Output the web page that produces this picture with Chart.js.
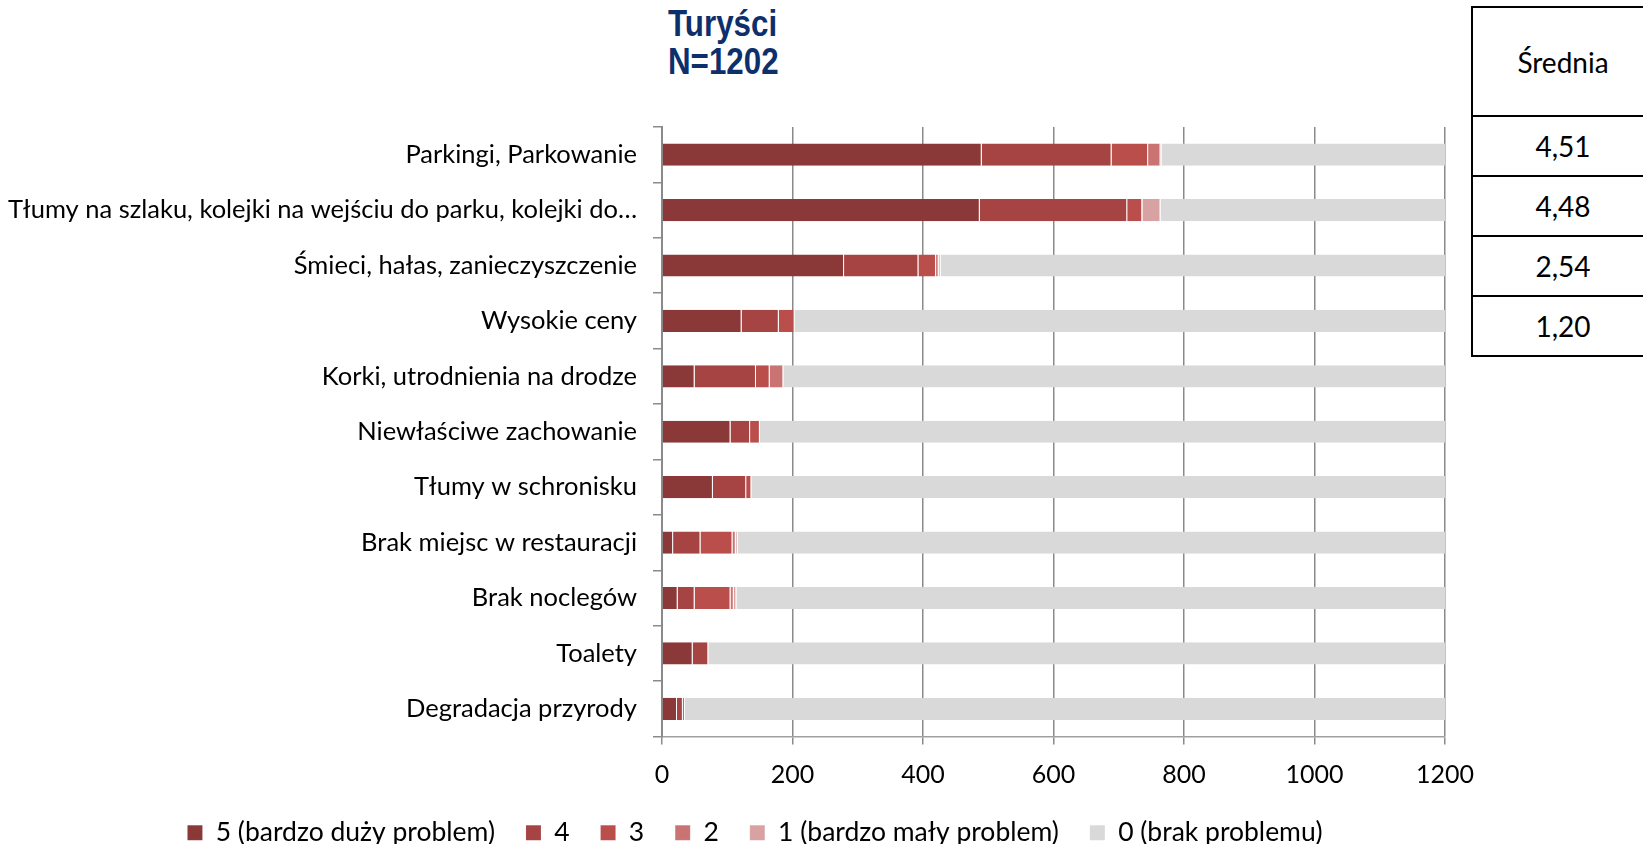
<!DOCTYPE html>
<html lang="pl">
<head>
  <meta charset="utf-8"/>
  <title>Turyści – problemy</title>
  <script src="https://cdn.jsdelivr.net/npm/chart.js"></script>
  <style>
    html, body { margin: 0; padding: 0; background: #fff; overflow: hidden; }
    body { width: 1643px; height: 844px; position: relative; }
    .title {
      position: absolute; left: 668px; top: 5px;
      font-family: "Liberation Sans", Arial, sans-serif; font-weight: bold;
      font-size: 36px; line-height: 38px; color: #0d2f6b;
      transform: scaleX(0.87); transform-origin: left top;
    }
    .wrap { position: absolute; left: 0; top: 0; width: 1510px; height: 856px; }
    table.avg {
      position: absolute; left: 1471px; top: 6px; width: 184px;
      border-collapse: collapse; font-family: Lato, sans-serif; font-size: 28px;
      background: #fff;
    }
    table.avg td { border: 2px solid #000; text-align: center; padding: 0; }
    table.avg tr.head td { height: 107px; }
    table.avg tr.val td { height: 58px; }
  </style>
</head>
<body>
  <div class="title">Turyści<br>N=1202</div>

  <div class="wrap"><canvas id="chart"></canvas></div>

  <table class="avg" id="avgTable">
    <tr class="head"><td>Średnia</td></tr>
  </table>

  <script>
    // data
    const categories = [
      'Parkingi, Parkowanie',
      'Tłumy na szlaku, kolejki na wejściu do parku, kolejki do…',
      'Śmieci, hałas, zanieczyszczenie',
      'Wysokie ceny',
      'Korki, utrodnienia na drodze',
      'Niewłaściwe zachowanie',
      'Tłumy w schronisku',
      'Brak miejsc w restauracji',
      'Brak noclegów',
      'Toalety',
      'Degradacja przyrody'
    ];
    const seriesNames = ['5 (bardzo duży problem)', '4', '3', '2', '1 (bardzo mały problem)', '0 (brak problemu)'];
    const v5 = [490, 487, 279, 122, 50, 105, 78, 17, 24, 47, 23];
    const v4 = [199, 226, 114, 57, 94, 30, 51, 42, 26, 24, 9];
    const v3 = [56, 23, 27, 24, 21, 15, 8, 49, 55, 0, 3];
    const v2 = [19, 1, 4, 0, 21, 0, 0, 5, 5, 0, 0];
    const v1 = [2, 27, 3, 0, 0, 0, 0, 3, 4, 0, 0];
    const v0 = [436, 438, 775, 999, 1016, 1052, 1065, 1086, 1088, 1131, 1167];
    const xTicks = [0, 200, 400, 600, 800, 1000, 1200];
    const averages = ['4,51', '4,48', '2,54', '1,20'];

    const colors = ['#8b3838', '#a54442', '#b94e4b', '#c97472', '#d9a2a2', '#d9d9d9'];

    // średnia table
    const tbl = document.getElementById('avgTable');
    averages.forEach(a => {
      const tr = document.createElement('tr');
      tr.className = 'val';
      tr.innerHTML = `<td>${a}</td>`;
      tbl.appendChild(tr);
    });

    const values = [v5, v4, v3, v2, v1, v0];
    const datasets = values.map((d, i) => ({
      label: seriesNames[i],
      data: d,
      backgroundColor: colors[i],
      borderColor: 'rgba(255,255,255,0.3)',
      borderWidth: { left: 0, right: 1, top: 0, bottom: 0 },
      borderSkipped: false,
      barPercentage: 0.4,
      categoryPercentage: 1
    }));

    const FONT = 'Lato, "Open Sans", sans-serif';

    new Chart(document.getElementById('chart'), {
      type: 'bar',
      data: { labels: categories, datasets },
      options: {
        indexAxis: 'y',
        responsive: true,
        maintainAspectRatio: false,
        animation: false,
        layout: { padding: { top: 127, right: 0, left: 0, bottom: 0 } },
        scales: {
          x: {
            stacked: true,
            min: 0, max: 1200,
            afterBuildTicks: s => { s.ticks = xTicks.map(v => ({ value: v })); },
            afterFit: s => { s.height = 52; },
            grid: { color: '#8a8a8a', lineWidth: 1.5, tickLength: 8, drawTicks: true },
            border: { display: true, color: '#a0a0a0', width: 1.5 },
            ticks: {
              color: '#000', font: { family: FONT, size: 25 }, padding: 15,
              callback: v => String(v)
            }
          },
          y: {
            stacked: true,
            afterFit: s => { s.width = 662; },
            grid: { drawOnChartArea: false, drawTicks: true, tickLength: 9, color: '#8a8a8a', lineWidth: 1.5 },
            border: { display: true, color: '#8a8a8a', width: 2 },
            ticks: { color: '#000', font: { family: FONT, size: 25.5 }, padding: 16, autoSkip: false }
          },
          // empty right-hand gutter, keeps the legend centred like the original
          gutter: {
            type: 'category',
            position: 'right',
            afterFit: s => { s.width = 65; },
            grid: { display: false },
            border: { display: false },
            ticks: { display: false }
          }
        },
        plugins: {
          tooltip: { enabled: false },
          legend: {
            position: 'bottom',
            labels: {
              color: '#000',
              font: { family: FONT, size: 26.5 },
              boxWidth: 15, boxHeight: 15,
              padding: 31
            }
          }
        }
      }
    });
  </script>
</body>
</html>
